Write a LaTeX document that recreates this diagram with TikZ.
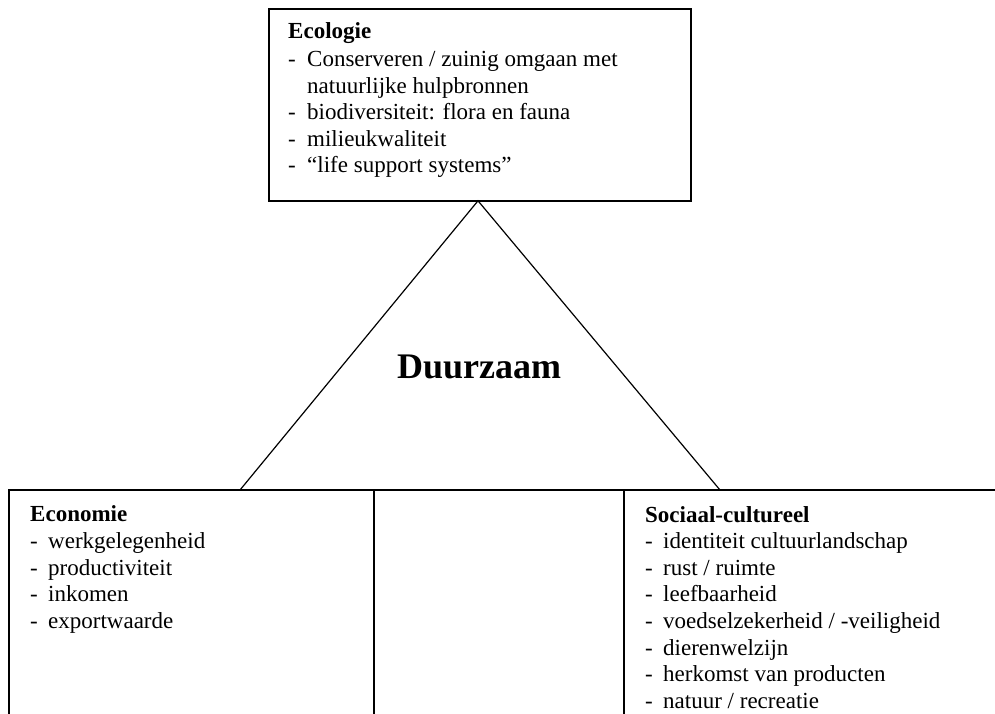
\documentclass[tikz,border=0pt]{standalone}
\usepackage{fontspec}
\setmainfont{Liberation Serif}
\begin{document}
\begin{tikzpicture}[x=1pt,y=-1pt,
  boxline/.style={line width=1.6pt},
  triline/.style={line width=1.2pt},
  txt/.style={anchor=base west,inner sep=0pt,font=\fontsize{23}{26}\selectfont},
  head/.style={txt,font=\fontsize{23}{26}\selectfont\bfseries},
  title/.style={anchor=base,inner sep=0pt,font=\fontsize{36}{40}\selectfont\bfseries}]
\useasboundingbox (0,0) rectangle (995,714);
% top box
\node[draw,boxline,rectangle,minimum width=422pt,minimum height=192pt,anchor=north west,inner sep=0pt] (eco) at (268,8) {};
% triangle
\coordinate (apex) at (478,200.8);
\coordinate (bl) at (240,490);
\coordinate (br) at (720,490);
\draw[triline] (bl) -- (apex) -- (br);
% bottom lines
\coordinate (tl) at (9,490);
\coordinate (tr) at (995,490);
\coordinate (lb) at (9,714);
\coordinate (mt) at (374,490);
\coordinate (mb) at (374,714);
\coordinate (rt) at (624,490);
\coordinate (rb) at (624,714);
\draw[boxline] (lb) -- (tl) -- (tr);
\draw[boxline] (mt) -- (mb);
\draw[boxline] (rt) -- (rb);
% title
\node[title] (duur) at (479,378) {Duurzaam};
% Ecologie text
\node[head] (e0) at (288,39) {Ecologie};
\node[txt] (e1d) at (288,67) {-};
\node[txt] (e1) at (307,67) {Conserveren / zuinig omgaan met};
\node[txt] (e2) at (307,93.5) {natuurlijke hulpbronnen};
\node[txt] (e3d) at (288,120) {-};
\node[txt] (e3) at (307,120) {biodiversiteit: flora en fauna};
\node[txt] (e4d) at (288,146.5) {-};
\node[txt] (e4) at (307,146.5) {milieukwaliteit};
\node[txt] (e5d) at (288,173) {-};
\node[txt] (e5) at (307,173) {``life support systems''};
% Economie text
\node[head] (c0) at (30,521) {Economie};
\node[txt] (c1d) at (30,548) {-};
\node[txt] (c1) at (48,548) {werkgelegenheid};
\node[txt] (c2d) at (30,575) {-};
\node[txt] (c2) at (48,575) {productiviteit};
\node[txt] (c3d) at (30,601.5) {-};
\node[txt] (c3) at (48,601.5) {inkomen};
\node[txt] (c4d) at (30,628) {-};
\node[txt] (c4) at (48,628) {exportwaarde};
% Sociaal-cultureel text
\node[head] (s0) at (645,522) {Sociaal-cultureel};
\node[txt] (s1d) at (645,548.5) {-};
\node[txt] (s1) at (663,548.5) {identiteit cultuurlandschap};
\node[txt] (s2d) at (645,575) {-};
\node[txt] (s2) at (663,575) {rust / ruimte};
\node[txt] (s3d) at (645,601.5) {-};
\node[txt] (s3) at (663,601.5) {leefbaarheid};
\node[txt] (s4d) at (645,628) {-};
\node[txt] (s4) at (663,628) {voedselzekerheid / -veiligheid};
\node[txt] (s5d) at (645,655) {-};
\node[txt] (s5) at (663,655) {dierenwelzijn};
\node[txt] (s6d) at (645,681.5) {-};
\node[txt] (s6) at (663,681.5) {herkomst van producten};
\node[txt] (s7d) at (645,708) {-};
\node[txt] (s7) at (663,708) {natuur / recreatie};
\end{tikzpicture}
\end{document}
